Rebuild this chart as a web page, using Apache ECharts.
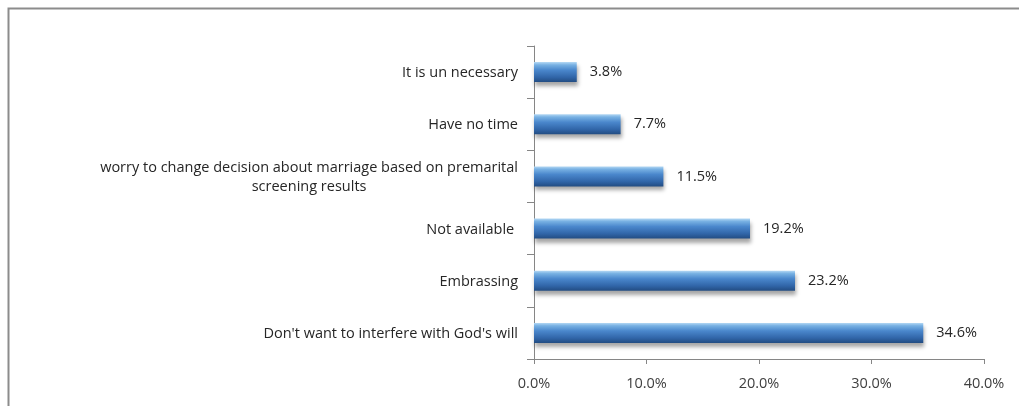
<!DOCTYPE html>
<html>
<head>
<meta charset="utf-8">
<style>
  html, body { margin: 0; padding: 0; background: #ffffff; }
  #chart { width: 1019px; height: 406px; }
</style>
<script src="https://cdn.jsdelivr.net/npm/echarts@6/dist/echarts.min.js"></script>
</head>
<body>
<div id="chart"></div>
<script>
// Reasons, listed bottom to top as the category axis draws them
const reasons = [
  "Don't want to interfere with God's will",
  "Embrassing",
  "Not available ",
  "worry to change decision about marriage based on premarital\nscreening results",
  "Have no time",
  "It is un necessary"
];
// Share of respondents (%)
const shares = [34.6, 23.2, 19.2, 11.5, 7.7, 3.8];
// Value axis range and step (%)
const axisMin = 0;
const axisMax = 40;
const axisStep = 10;

const chart = echarts.init(document.getElementById('chart'), null, { renderer: 'canvas' });

const font = "'Open Sans', 'Liberation Sans', sans-serif";
const axisGray = '#868686';
const textColor = '#262626';

chart.setOption({
  animation: false,
  backgroundColor: '#ffffff',
  graphic: [{
    type: 'rect',
    shape: { x: 8.5, y: 8.5, width: 1100, height: 500 },
    style: { fill: 'none', stroke: '#8c8c8c', lineWidth: 2 },
    silent: true
  }],
  grid: { left: 534, right: 35, top: 46, bottom: 47, containLabel: false },
  xAxis: {
    type: 'value',
    min: axisMin,
    max: axisMax,
    interval: axisStep,
    axisLine: { show: true, lineStyle: { color: axisGray, width: 1 } },
    axisTick: { show: true, length: 5, lineStyle: { color: axisGray } },
    splitLine: { show: false },
    axisLabel: {
      margin: 17,
      color: '#404040',
      fontFamily: font,
      fontSize: 14.5,
      formatter: v => v.toFixed(1) + '%'
    }
  },
  yAxis: {
    type: 'category',
    data: reasons,
    axisLine: { show: true, lineStyle: { color: axisGray, width: 1 } },
    axisTick: { show: true, length: 7, alignWithLabel: false, lineStyle: { color: axisGray } },
    axisLabel: {
      margin: 16,
      color: textColor,
      fontFamily: font,
      fontSize: 14.5,
      lineHeight: 19,
      padding: [2, 0, 0, 0],
      formatter: v => v.split('\n').map(s => '{c|' + s + '}').join('\n'),
      rich: {
        c: { align: 'center', fontFamily: font, fontSize: 14.5, color: textColor, lineHeight: 19 }
      }
    }
  },
  series: [{
    type: 'bar',
    data: shares,
    barWidth: 20,
    itemStyle: {
      color: new echarts.graphic.LinearGradient(0, 0, 0, 1, [
        { offset: 0, color: '#b4d8f4' },
        { offset: 0.14, color: '#78b1e3' },
        { offset: 0.4, color: '#4a87cc' },
        { offset: 0.75, color: '#3166a9' },
        { offset: 1, color: '#224c82' }
      ]),
      shadowColor: 'rgba(0,0,0,0.35)',
      shadowBlur: 4,
      shadowOffsetX: 1,
      shadowOffsetY: 4
    },
    label: {
      show: true,
      position: 'right',
      distance: 13,
      color: textColor,
      fontFamily: font,
      fontSize: 14.5,
      formatter: p => p.value.toFixed(1) + '%'
    }
  }]
});
</script>
</body>
</html>
